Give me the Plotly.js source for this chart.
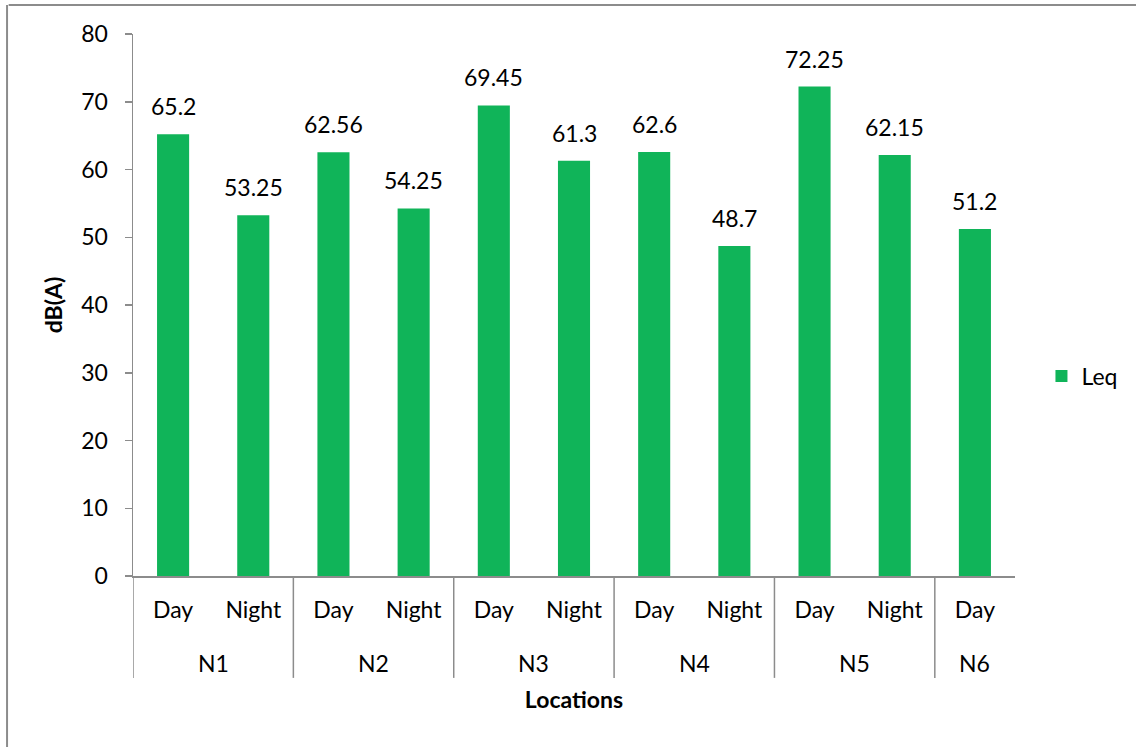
<!DOCTYPE html>
<html>
<head>
<meta charset="utf-8">
<script src="https://cdn.plot.ly/plotly-3.0.1.min.js"></script>
<style>
  html, body { margin: 0; padding: 0; background: #fff; }
  #chart { width: 1136px; height: 747px; }
</style>
</head>
<body>
<div id="chart"></div>
<script>
// ---- data ----
const locations = ['N1', 'N1', 'N2', 'N2', 'N3', 'N3', 'N4', 'N4', 'N5', 'N5', 'N6'];
const periods   = ['Day', 'Night', 'Day', 'Night', 'Day', 'Night', 'Day', 'Night', 'Day', 'Night', 'Day'];
const leq       = [65.2, 53.25, 62.56, 54.25, 69.45, 61.3, 62.6, 48.7, 72.25, 62.15, 51.2];
const seriesName = 'Leq';
const yTicks = [0, 10, 20, 30, 40, 50, 60, 70, 80];

// ---- style ----
const FONT = 'Lato, "Noto Sans", sans-serif';
const FS = 23;
const GREEN = '#10B459';
const AXIS = '#8C8C8C';

const idx = periods.map((_, i) => i);

// group spans
const groups = [];
locations.forEach((g, i) => {
  if (!groups.length || groups[groups.length - 1].name !== g) groups.push({name: g, start: i, end: i});
  else groups[groups.length - 1].end = i;
});

const shapes = [];
const annotations = [];

// separators: left edge of every group (no right edge at the end)
groups.forEach(g => {
  shapes.push({type: 'line', xref: 'x', yref: 'paper', x0: g.start - 0.5, x1: g.start - 0.5,
    y0: 0, y1: -0.188, line: {color: AXIS, width: 1.5}});
  annotations.push({xref: 'x', yref: 'paper', x: (g.start + g.end) / 2, y: -0.160,
    text: g.name, showarrow: false, yanchor: 'middle', xanchor: 'center',
    font: {family: FONT, size: FS, color: '#000'}});
});

// value labels above bars
idx.forEach(i => {
  annotations.push({xref: 'x', yref: 'y', x: i, y: leq[i], text: String(leq[i]),
    showarrow: false, yanchor: 'bottom', xanchor: 'center', yshift: 12,
    font: {family: FONT, size: FS, color: '#000'}});
});

// outer chart border (top and left)
shapes.push({type: 'line', xref: 'paper', yref: 'paper', x0: -0.141, x1: 1.2, y0: 1.0535, y1: 1.0535,
  line: {color: AXIS, width: 2}});
shapes.push({type: 'line', xref: 'paper', yref: 'paper', x0: -0.1428, x1: -0.1428, y0: 1.0535, y1: -0.33,
  line: {color: AXIS, width: 2}});

const trace = {
  type: 'bar',
  x: idx,
  y: leq,
  name: seriesName,
  marker: {color: GREEN},
  showlegend: true,
  hoverinfo: 'y'
};

const layout = {
  width: 1136, height: 747,
  margin: {l: 133, r: 121, t: 34, b: 171, autoexpand: false},
  paper_bgcolor: '#fff', plot_bgcolor: '#fff',
  font: {family: FONT, size: FS, color: '#000'},
  bargap: 0.6,
  showlegend: true,
  legend: {x: 1.03, xanchor: 'left', y: 0.369, yanchor: 'middle', itemwidth: 30,
    font: {family: FONT, size: FS, color: '#000'}, bgcolor: 'rgba(0,0,0,0)'},
  xaxis: {
    type: 'linear', range: [-0.5, idx.length - 0.5],
    tickmode: 'array', tickvals: idx, ticktext: periods,
    ticks: '', showgrid: false, zeroline: false,
    showline: true, linecolor: AXIS, linewidth: 1.5,
    ticklabelstandoff: 13,
    tickfont: {family: FONT, size: FS, color: '#000'},
    title: {text: '<b>Locations</b>', standoff: 70, font: {family: FONT, size: FS, color: '#000'}},
    automargin: false,
    fixedrange: true
  },
  yaxis: {
    range: [0, 80], tickmode: 'array', tickvals: yTicks,
    ticks: 'outside', ticklen: 7, tickcolor: AXIS, tickwidth: 1.5,
    showgrid: false, zeroline: false,
    showline: true, linecolor: AXIS, linewidth: 1.5,
    ticklabelstandoff: 12,
    tickfont: {family: FONT, size: FS, color: '#000'},
    title: {text: '<b>dB(A)</b>', standoff: 12, font: {family: FONT, size: FS, color: '#000'}},
    automargin: false,
    fixedrange: true
  },
  shapes: shapes,
  annotations: annotations
};

Plotly.newPlot('chart', [trace], layout, {displayModeBar: false, staticPlot: true});
</script>
</body>
</html>
